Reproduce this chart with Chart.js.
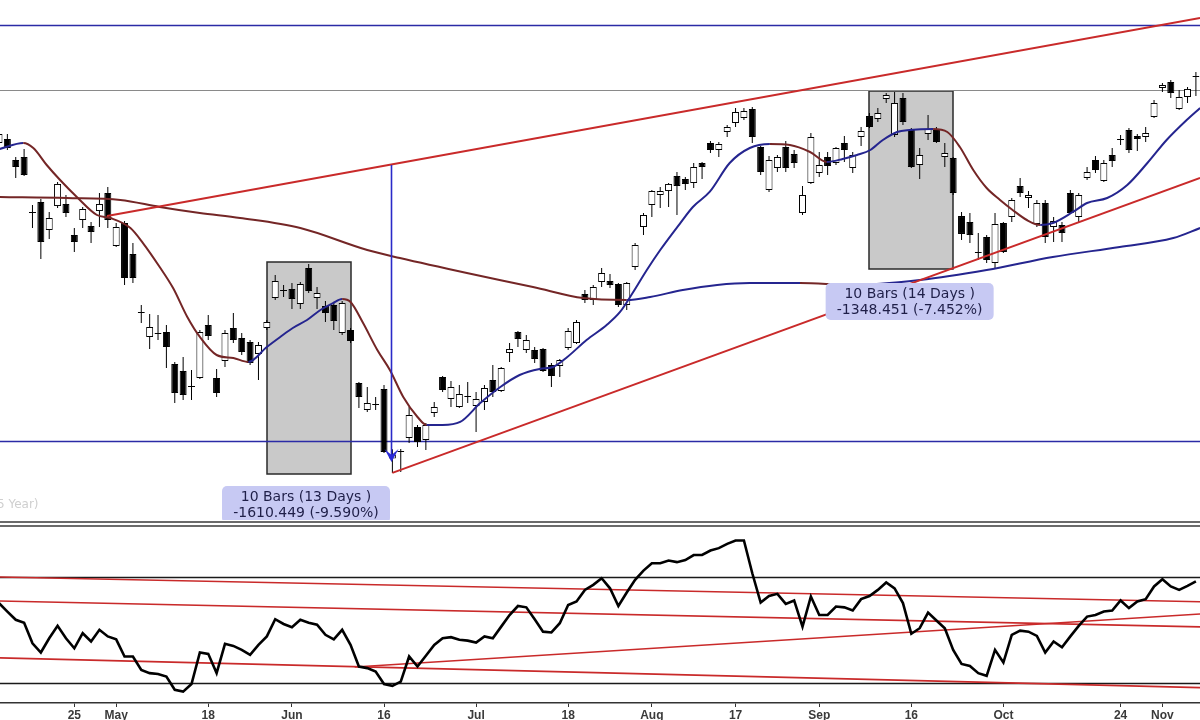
<!DOCTYPE html>
<html>
<head>
<meta charset="utf-8">
<script src="https://cdn.jsdelivr.net/npm/chart.js@4.4.1/dist/chart.umd.min.js"></script>
<style>
  html, body { margin: 0; padding: 0; background: #fff; }
  #wrap { width: 1200px; height: 720px; position: relative; overflow: hidden; background: #fff; }
  #top { position: absolute; left: 0; top: 0; width: 1200px; height: 520px; }
  #bot { position: absolute; left: 0; top: 520px; width: 1200px; height: 200px; }
</style>
</head>
<body>
<div id="wrap">
  <div id="top"><canvas id="priceChart"></canvas></div>
  <div id="bot"><canvas id="rsiChart"></canvas></div>
</div>
<script>
// x axis: one slot per trading day (index 0 = first bar on the left)
const tickIdx = [9, 14, 25, 35, 46, 57, 68, 78, 88, 98, 109, 120, 134, 139];
const tickLabels = ['25', 'May', '18', 'Jun', '16', 'Jul', '18', 'Aug', '17', 'Sep', '16', 'Oct', '24', 'Nov'];

const opens = [17697, 17728, 17568, 17591, 17165, 17249, 17036, 17218, 17234, 16998,
  17112, 17066, 17180, 17317, 16914, 17089, 16854, 16413, 16223, 16253,
  16261, 16018, 15964, 15850, 15911, 16314, 15911, 16040, 16291, 16215,
  16185, 16094, 16291, 16519, 16580, 16588, 16474, 16747, 16519, 16458,
  16466, 16253, 16276, 15873, 15668, 15713, 15828, 15300, 15349, 15455,
  15539, 15440, 15645, 15919, 15752, 15691, 15767, 15698, 15729, 15896,
  15812, 16101, 16261, 16124, 16124, 16132, 16010, 16002, 16139, 16177,
  16550, 16504, 16641, 16648, 16626, 16466, 16755, 17059, 17226, 17302,
  17332, 17446, 17424, 17393, 17545, 17697, 17644, 17781, 17849, 17887,
  17956, 17667, 17340, 17507, 17667, 17614, 17165, 17393, 17469, 17591,
  17545, 17697, 17507, 17743, 17902, 17880, 18032, 17758, 18039, 17796,
  17530, 17766, 17796, 17591, 17583, 17142, 17097, 16869, 16983, 16785,
  17089, 17135, 17370, 17279, 17082, 17241, 17059, 17074, 17317, 17135,
  17431, 17568, 17408, 17606, 17728, 17796, 17750, 17743, 17895, 18115,
  18161, 17956, 18047, 18206];
const highs = [17788, 17766, 17591, 17652, 17226, 17272, 17173, 17401, 17302, 17051,
  17211, 17097, 17317, 17363, 17089, 17104, 16937, 16466, 16398, 16390,
  16314, 16033, 16071, 15972, 16276, 16390, 15980, 16276, 16405, 16253,
  16200, 16185, 16352, 16694, 16618, 16633, 16641, 16778, 16603, 16496,
  16489, 16496, 16291, 15881, 15843, 15767, 15858, 15370, 15372, 15691,
  15554, 15569, 15729, 15926, 15888, 15858, 15881, 15805, 15858, 16010,
  15995, 16177, 16268, 16238, 16147, 16139, 16025, 16056, 16291, 16352,
  16580, 16618, 16747, 16702, 16633, 16641, 16937, 17165, 17340, 17363,
  17393, 17477, 17439, 17545, 17553, 17712, 17705, 17834, 17963, 17963,
  17971, 17674, 17598, 17606, 17712, 17644, 17370, 17773, 17629, 17629,
  17667, 17750, 17629, 17819, 17925, 17963, 18077, 18085, 18077, 17811,
  17659, 17910, 17819, 17697, 17591, 17173, 17165, 17013, 16998, 17165,
  17097, 17279, 17431, 17332, 17264, 17264, 17135, 17097, 17340, 17317,
  17515, 17598, 17568, 17659, 17758, 17811, 17766, 17819, 18024, 18153,
  18176, 18100, 18123, 18237];
const lows = [17674, 17644, 17431, 17446, 17051, 16816, 16968, 17203, 17135, 16869,
  17051, 16937, 17059, 17051, 16907, 16618, 16633, 16329, 16132, 16200,
  15987, 15721, 15744, 15744, 15904, 16200, 15767, 15995, 16177, 16086,
  16010, 15896, 16276, 16504, 16527, 16436, 16436, 16557, 16436, 16337,
  16276, 16238, 16177, 15683, 15653, 15668, 15341, 15190, 15197, 15417,
  15387, 15364, 15615, 15805, 15691, 15683, 15721, 15501, 15668, 15767,
  15805, 16033, 16147, 16101, 16025, 15957, 15843, 15919, 16124, 16170,
  16481, 16466, 16603, 16595, 16451, 16428, 16732, 16998, 17135, 17203,
  17211, 17150, 17340, 17355, 17424, 17621, 17591, 17743, 17819, 17872,
  17697, 17454, 17325, 17477, 17477, 17507, 17150, 17386, 17439, 17454,
  17530, 17553, 17469, 17674, 17811, 17857, 18001, 17743, 17834, 17507,
  17424, 17720, 17697, 17515, 17302, 16960, 16937, 16808, 16785, 16747,
  16861, 17097, 17287, 17203, 17059, 16937, 16945, 16945, 17158, 17089,
  17416, 17469, 17401, 17515, 17682, 17621, 17636, 17705, 17887, 18085,
  18039, 17948, 18001, 18054];
const closes = [17766, 17659, 17515, 17454, 17172, 16945, 17127, 17386, 17165, 16945,
  17196, 17021, 17234, 17112, 17059, 16671, 16671, 16406, 16299, 16246,
  16147, 15797, 15782, 15843, 16261, 16230, 15797, 16253, 16200, 16109,
  16025, 16162, 16337, 16648, 16572, 16512, 16626, 16572, 16557, 16405,
  16344, 16481, 16192, 15767, 15721, 15706, 15349, 15330, 15356, 15630,
  15425, 15554, 15691, 15820, 15843, 15790, 15774, 15752, 15835, 15805,
  15987, 16132, 16208, 16200, 16056, 15964, 15926, 16048, 16268, 16337,
  16504, 16603, 16709, 16618, 16466, 16633, 16922, 17150, 17332, 17332,
  17386, 17370, 17386, 17515, 17515, 17644, 17690, 17819, 17933, 17940,
  17743, 17477, 17568, 17591, 17507, 17545, 17302, 17743, 17530, 17522,
  17659, 17644, 17606, 17788, 17819, 17925, 18062, 18001, 17857, 17515,
  17606, 17804, 17705, 17621, 17317, 17006, 16998, 16861, 16808, 17082,
  16869, 17264, 17317, 17302, 17241, 16983, 17104, 17013, 17165, 17302,
  17477, 17492, 17545, 17560, 17720, 17644, 17728, 17773, 18001, 18138,
  18077, 18047, 18108, 18199];

// moving averages at their turning points
const shortMaIdx = [0.1, 2.9, 4.1, 5.7, 7.3, 9.3, 11.7, 13.3, 15.7, 17.2,
  19.2, 20.8, 22.5, 24, 26, 28, 29.8, 32, 33.6, 35.1,
  36.8, 38.4, 39.9, 41, 42, 43.5, 45.2, 46.7, 48.3, 50,
  51.1, 53, 55.1, 57.5, 59.9, 62.2, 64.6, 66.2, 67.9, 70.2,
  72.6, 74.2, 75.7, 77.4, 79, 81.4, 82.9, 84.9, 87.3, 89.7,
  92.1, 94.5, 96.9, 98.9, 100.8, 102.5, 104.1, 105.6, 107.3, 108.8,
  111.6, 113.3, 114.8, 116.4, 118, 119.6, 121.1, 122.8, 124.4, 125.9,
  128.3, 130, 132.4, 134.8, 137.2, 139.5, 141.9, 143.5];
const shortMaVal = [17652, 17697, 17659, 17530, 17416, 17287, 17150, 17127, 17051, 16937,
  16755, 16595, 16375, 16223, 16086, 16063, 16033, 16147, 16223, 16291,
  16352, 16428, 16481, 16512, 16489, 16329, 16124, 15972, 15767, 15615,
  15554, 15554, 15577, 15721, 15843, 15934, 15980, 15995, 16071, 16200,
  16314, 16413, 16557, 16732, 16884, 17089, 17211, 17325, 17545, 17659,
  17690, 17682, 17629, 17553, 17576, 17606, 17644, 17720, 17781, 17796,
  17804, 17781, 17667, 17492, 17355, 17264, 17188, 17112, 17074, 17089,
  17173, 17241, 17279, 17378, 17545, 17720, 17872, 17963];
const longMaIdx = [0.1, 8.1, 14.5, 19.2, 24, 28.8, 36, 44, 47.9, 55.9,
  63.8, 69.8, 75, 77.8, 81.7, 85.8, 89.7, 95.7, 102, 110,
  118, 125.9, 133.9, 140.3, 143.5];
const longMaVal = [17287, 17279, 17264, 17211, 17165, 17127, 17051, 16884, 16823, 16709,
  16603, 16519, 16504, 16527, 16580, 16618, 16633, 16633, 16618, 16656,
  16732, 16831, 16907, 16975, 17051];

// drawn trend lines (start / end)
const upperTrendIdx = [12.9, 143.5];
const upperTrendVal = [17142, 18647];
const lowerTrendIdx = [47, 143.5];
const lowerTrendVal = [15190, 17431];

const priceLevels = [18594, 18100, 15432];

// measured moves
const moveFromIdx = [32, 104];
const moveToIdx = [42, 114];
const moveHigh = [16793, 18090];
const moveLow = [15183, 16742];
const moveText = [
  ['10 Bars (13 Days )', '-1610.449 (-9.590%)'],
  ['10 Bars (14 Days )', '-1348.451 (-7.452%)']
];
const arrowIdx = 47;
const arrowFrom = 17530;
const arrowTo = 15303;

// RSI panel
const rsiValues = [60.2, 57.0, 53.9, 52.8, 45.0, 41.5, 46.9, 51.6, 46.9, 43.1,
  48.8, 45.7, 50.1, 47.6, 46.5, 40.0, 40.0, 34.9, 33.7, 33.4,
  32.4, 27.4, 26.7, 29.6, 41.5, 41.0, 33.7, 44.8, 44.0, 42.5,
  40.6, 44.4, 47.6, 54.1, 52.3, 51.1, 53.9, 52.8, 52.0, 48.2,
  46.5, 50.1, 44.4, 36.2, 35.6, 34.3, 29.6, 28.9, 30.5, 40.0,
  36.2, 40.3, 44.4, 46.9, 47.3, 46.3, 46.0, 45.3, 47.6, 46.9,
  51.3, 55.7, 59.1, 58.6, 54.1, 49.4, 49.1, 52.6, 59.5, 60.8,
  65.2, 67.1, 69.6, 65.8, 59.1, 64.2, 69.0, 72.5, 75.3, 75.3,
  76.3, 75.7, 76.5, 78.4, 78.4, 80.1, 81.0, 82.6, 83.9, 83.9,
  71.5, 60.4, 62.9, 63.7, 59.9, 61.2, 51.3, 62.7, 55.7, 55.7,
  58.9, 58.6, 57.4, 61.7, 62.9, 65.2, 68.0, 65.8, 60.2, 48.6,
  50.7, 56.6, 53.6, 50.7, 42.5, 37.2, 36.4, 33.7, 32.7, 42.5,
  37.7, 48.2, 49.8, 49.4, 47.8, 41.5, 45.7, 43.5, 47.6, 51.6,
  55.1, 55.7, 57.0, 57.4, 61.2, 58.3, 60.8, 61.7, 66.5, 69.2,
  66.5, 65.2, 66.7, 68.4];
const rsiLevels = [70, 30];
const rsiTrendIdx = [[0, 143.5], [0, 143.5], [0, 143.5], [42.5, 143.5]];
const rsiTrendVal = [[70.1, 60.7], [61.0, 51.2], [39.5, 28.2], [36.0, 56.1]];

const X_MIN = 0.12, X_MAX = 143.49;
const MA_UP = '#25258f';
const MA_DOWN = '#742626';
const TREND_RED = '#c92a2a';

const pts = (xs, ys) => xs.map((x, k) => ({ x: x, y: ys[k] }));
const slopeColor = c => c.p1.parsed.y >= c.p0.parsed.y ? MA_UP : MA_DOWN;

const priceOverlay = {
  id: 'priceOverlay',
  beforeDatasetsDraw(chart) {
    const { ctx, scales: { x, y }, chartArea } = chart;
    ctx.save();
    // measuring boxes
    for (let k = 0; k < moveFromIdx.length; k++) {
      const l = Math.round(x.getPixelForValue(moveFromIdx[k]));
      const r = Math.round(x.getPixelForValue(moveToIdx[k]));
      const t = Math.round(y.getPixelForValue(moveHigh[k]));
      const b = Math.round(y.getPixelForValue(moveLow[k]));
      ctx.fillStyle = '#c9c9c9';
      ctx.fillRect(l, t, r - l, b - t);
      ctx.strokeStyle = '#2a2a2a';
      ctx.lineWidth = 1.5;
      ctx.strokeRect(l, t, r - l, b - t);
    }
    // horizontal levels
    priceLevels.forEach((lv, k) => {
      const py = Math.round(y.getPixelForValue(lv)) + 0.5;
      ctx.strokeStyle = k === 1 ? '#8a8a8a' : '#2b2ba6';
      ctx.lineWidth = k === 1 ? 1 : 1.6;
      ctx.beginPath();
      ctx.moveTo(chartArea.left, py);
      ctx.lineTo(chartArea.right, py);
      ctx.stroke();
    });
    ctx.restore();
  },
  afterDatasetsDraw(chart) {
    const { ctx, scales: { x, y } } = chart;
    ctx.save();
    // vertical measuring arrow
    const ax = Math.round(x.getPixelForValue(arrowIdx)) - 0.5;
    const a0 = y.getPixelForValue(arrowFrom);
    const a1 = y.getPixelForValue(arrowTo);
    ctx.strokeStyle = '#2a2ac8';
    ctx.lineWidth = 1.6;
    ctx.beginPath();
    ctx.moveTo(ax, a0);
    ctx.lineTo(ax, a1);
    ctx.stroke();
    ctx.fillStyle = '#2a2ad8';
    ctx.beginPath();
    ctx.moveTo(ax - 7, a1 - 9);
    ctx.lineTo(ax, a1 + 4);
    ctx.lineTo(ax + 7, a1 - 9);
    ctx.lineTo(ax, a1 - 3);
    ctx.closePath();
    ctx.fill();

    // move labels
    const labelTop = [15090, 16633];
    const labelMid = [36.68, 108.8];
    ctx.font = '14px "DejaVu Sans"';
    ctx.textAlign = 'center';
    ctx.textBaseline = 'middle';
    for (let k = 0; k < moveText.length; k++) {
      const cx = x.getPixelForValue(labelMid[k]);
      const ty = y.getPixelForValue(labelTop[k]);
      const w = 168, h = 37;
      ctx.fillStyle = '#c7c9f3';
      ctx.beginPath();
      ctx.roundRect(cx - w / 2, ty, w, h, 5);
      ctx.fill();
      ctx.fillStyle = '#1f1f48';
      ctx.fillText(moveText[k][0], cx, ty + 11);
      ctx.fillText(moveText[k][1], cx, ty + 27);
    }

    // faint cut-off caption at the left edge
    ctx.font = '12px "DejaVu Sans"';
    ctx.textAlign = 'left';
    ctx.fillStyle = '#cfcfcf';
    ctx.fillText('5 Year)', -3, 505);
    ctx.restore();
  }
};

const rsiOverlay = {
  id: 'rsiOverlay',
  beforeDraw(chart) {
    const ctx = chart.ctx;
    ctx.save();
    ctx.strokeStyle = '#3a3a3a';
    ctx.lineWidth = 1.6;
    [2, 6].forEach(py => {
      ctx.beginPath();
      ctx.moveTo(0, py);
      ctx.lineTo(chart.width, py);
      ctx.stroke();
    });
    ctx.restore();
  },
  beforeDatasetsDraw(chart) {
    const { ctx, scales: { y }, chartArea } = chart;
    ctx.save();
    ctx.strokeStyle = '#1a1a1a';
    ctx.lineWidth = 1.6;
    rsiLevels.forEach(lv => {
      const py = Math.round(y.getPixelForValue(lv)) + 0.5;
      ctx.beginPath();
      ctx.moveTo(chartArea.left, py);
      ctx.lineTo(chartArea.right, py);
      ctx.stroke();
    });
    ctx.restore();
  }
};

const candleIdx = opens.map((_, i) => i);

new Chart(document.getElementById('priceChart').getContext('2d'), {
  type: 'bar',
  data: {
    datasets: [
      {
        label: 'wick',
        data: candleIdx.map(i => ({ x: i, y: [lows[i], highs[i]] })),
        backgroundColor: '#000',
        barThickness: 1,
        grouped: false,
        inflateAmount: 0,
        order: 6
      },
      {
        label: 'body',
        data: candleIdx.map(i => ({ x: i, y: [opens[i], closes[i]] })),
        backgroundColor: ctx => closes[ctx.dataIndex] >= opens[ctx.dataIndex] ? '#fff' : '#000',
        borderColor: '#000',
        borderWidth: 1,
        borderSkipped: false,
        barThickness: 7,
        grouped: false,
        inflateAmount: 0,
        order: 5
      },
      {
        type: 'line',
        label: 'long MA',
        data: pts(longMaIdx, longMaVal),
        borderWidth: 2,
        pointRadius: 0,
        cubicInterpolationMode: 'monotone',
        segment: { borderColor: slopeColor },
        order: 4
      },
      {
        type: 'line',
        label: 'short MA',
        data: pts(shortMaIdx, shortMaVal),
        borderWidth: 2,
        pointRadius: 0,
        cubicInterpolationMode: 'monotone',
        segment: { borderColor: slopeColor },
        order: 3
      },
      {
        type: 'line',
        label: 'upper trend',
        data: pts(upperTrendIdx, upperTrendVal),
        borderColor: TREND_RED,
        borderWidth: 2,
        pointRadius: 0,
        order: 2
      },
      {
        type: 'line',
        label: 'lower trend',
        data: pts(lowerTrendIdx, lowerTrendVal),
        borderColor: TREND_RED,
        borderWidth: 2,
        pointRadius: 0,
        order: 1
      }
    ]
  },
  options: {
    responsive: true,
    maintainAspectRatio: false,
    animation: false,
    events: [],
    layout: { padding: 0 },
    plugins: { legend: { display: false }, tooltip: { enabled: false } },
    scales: {
      x: { type: 'linear', min: X_MIN, max: X_MAX, offset: false, display: false, grid: { offset: false } },
      y: { type: 'linear', min: 14832, max: 18784, display: false, beginAtZero: false }
    }
  },
  plugins: [priceOverlay]
});

const rsiDatasets = rsiTrendIdx.map((xs, k) => ({
  label: 'rsi trend ' + (k + 1),
  data: pts(xs, rsiTrendVal[k]),
  borderColor: TREND_RED,
  borderWidth: 1.6,
  pointRadius: 0,
  order: 2
}));
rsiDatasets.push({
  label: 'RSI',
  data: rsiValues.map((v, i) => ({ x: i, y: v })),
  borderColor: '#000',
  borderWidth: 2.6,
  pointRadius: 0,
  tension: 0,
  order: 1
});

new Chart(document.getElementById('rsiChart').getContext('2d'), {
  type: 'line',
  data: { datasets: rsiDatasets },
  options: {
    responsive: true,
    maintainAspectRatio: false,
    animation: false,
    events: [],
    layout: { padding: { top: 7, left: 0, right: 0, bottom: 0 } },
    plugins: { legend: { display: false }, tooltip: { enabled: false } },
    scales: {
      x: {
        type: 'linear',
        min: X_MIN,
        max: X_MAX,
        offset: false,
        afterBuildTicks: scale => { scale.ticks = tickIdx.map(v => ({ value: v })); },
        afterFit: scale => { scale.height = 17; },
        border: { display: true, color: '#333', width: 1.5 },
        grid: { display: true, drawOnChartArea: false, drawTicks: true, tickLength: 4, color: '#333' },
        ticks: {
          autoSkip: false,
          maxRotation: 0,
          padding: 1,
          color: '#3a3a3a',
          font: { family: '"Liberation Sans", Arial, sans-serif', size: 12, weight: 'bold' },
          callback: value => tickLabels[tickIdx.indexOf(value)]
        }
      },
      y: { type: 'linear', min: 22.4, max: 89.0, display: false }
    }
  },
  plugins: [rsiOverlay]
});
</script>
</body>
</html>
